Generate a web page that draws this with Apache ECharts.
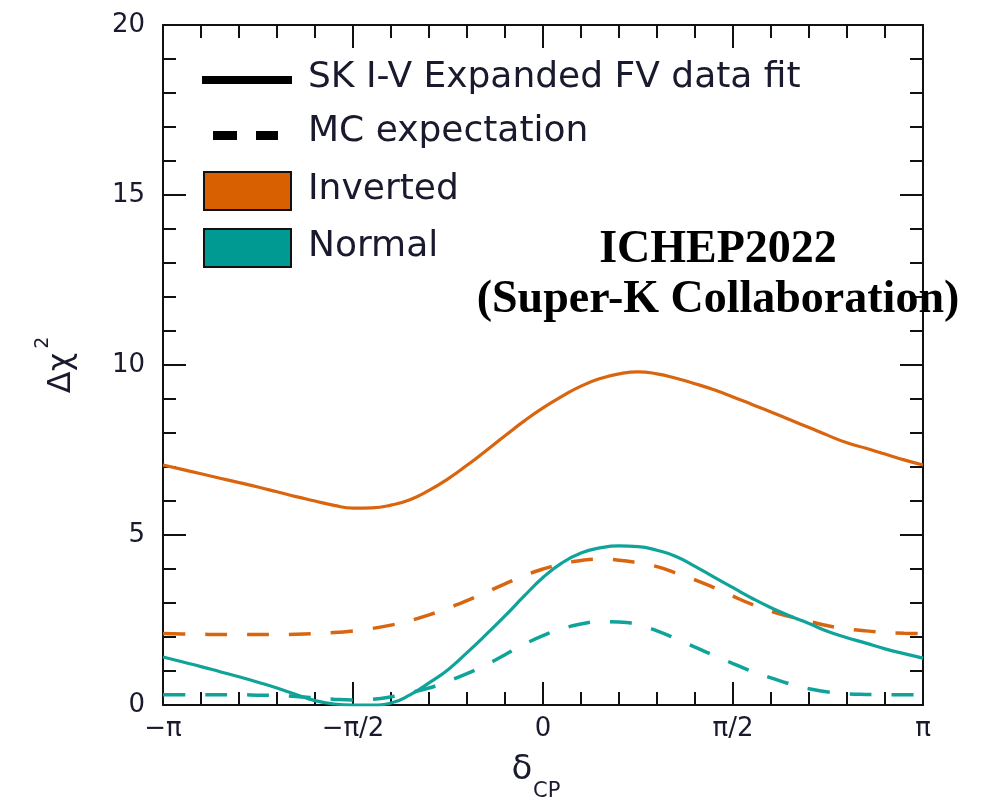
<!DOCTYPE html>
<html>
<head>
<meta charset="utf-8">
<title>Δχ² vs δCP</title>
<script src="https://cdn.jsdelivr.net/npm/echarts@6/dist/echarts.min.js"></script>
<style>
  html, body { margin: 0; padding: 0; background: #ffffff; }
  #chart { width: 988px; height: 803px; }
</style>
</head>
<body>
<div id="chart"></div>
<script>
// δCP in units of π
const deltaOverPi = [-1.00, -0.95, -0.90, -0.85, -0.80, -0.75, -0.70, -0.65, -0.60, -0.55,
                     -0.50, -0.45, -0.40, -0.35, -0.30, -0.25, -0.20, -0.15, -0.10, -0.05,
                      0.00,  0.05,  0.10,  0.15,  0.20,  0.25,  0.30,  0.35,  0.40,  0.45,
                      0.50,  0.55,  0.60,  0.65,  0.70,  0.75,  0.80,  0.85,  0.90,  0.95, 1.00];

// Inverted ordering: data fit (solid) and MC expectation (dashed)
const invertedFit = [7.06, 6.93, 6.80, 6.67, 6.54, 6.41, 6.27, 6.13, 6.00, 5.87,
                     5.79, 5.80, 5.88, 6.04, 6.31, 6.65, 7.05, 7.48, 7.92, 8.35,
                     8.74, 9.08, 9.38, 9.60, 9.74, 9.80, 9.74, 9.61, 9.45, 9.27,
                     9.06, 8.84, 8.62, 8.39, 8.16, 7.93, 7.71, 7.55, 7.38, 7.21, 7.06];
const invertedMC  = [2.10, 2.09, 2.08, 2.07, 2.07, 2.07, 2.07, 2.08, 2.10, 2.13,
                     2.18, 2.25, 2.35, 2.48, 2.65, 2.85, 3.07, 3.31, 3.56, 3.80,
                     4.00, 4.15, 4.25, 4.29, 4.26, 4.18, 4.07, 3.88, 3.68, 3.45,
                     3.20, 2.96, 2.76, 2.60, 2.46, 2.33, 2.24, 2.18, 2.14, 2.11, 2.10];

// Normal ordering: data fit (solid) and MC expectation (dashed)
const normalFit   = [1.41, 1.27, 1.13, 0.98, 0.83, 0.67, 0.50, 0.31, 0.13, 0.03,
                     0.00, 0.00, 0.06, 0.30, 0.65, 1.04, 1.54, 2.07, 2.62, 3.20,
                     3.75, 4.18, 4.47, 4.62, 4.68, 4.66, 4.55, 4.37, 4.08, 3.76,
                     3.45, 3.14, 2.86, 2.62, 2.40, 2.16, 1.98, 1.82, 1.65, 1.51, 1.38];
const normalMC    = [0.30, 0.30, 0.30, 0.30, 0.30, 0.29, 0.28, 0.25, 0.21, 0.17,
                     0.15, 0.17, 0.24, 0.36, 0.50, 0.70, 0.92, 1.18, 1.48, 1.78,
                     2.04, 2.24, 2.38, 2.45, 2.44, 2.36, 2.18, 1.95, 1.70, 1.46,
                     1.22, 0.99, 0.80, 0.62, 0.48, 0.38, 0.33, 0.31, 0.30, 0.30, 0.30];

// Axis tick labels
const xTickValues = [-1, -0.5, 0, 0.5, 1];
const xTickLabels = ['−π', '−π/2', '0', 'π/2', 'π'];
const yTickValues = [0, 5, 10, 15, 20];
const yTickLabels = ['0', '5', '10', '15', '20'];

// Legend entries and note
const legendLines = ['SK I-V Expanded FV data fit', 'MC expectation'];
const legendBoxes = ['Inverted', 'Normal'];
const noteLines = ['ICHEP2022', '(Super-K Collaboration)'];

const ORANGE = '#d9650f';
const TEAL = '#0fa39a';
const ORANGE_FILL = '#d96000';
const TEAL_FILL = '#009a92';
const INK = '#1a1a2e';
const FONT = '"DejaVu Sans", "Noto Sans", sans-serif';
const SERIF = 'bold 46px "Liberation Serif", "Times New Roman", serif';

function pair(xs, ys) { return xs.map((x, i) => [x, ys[i]]); }

function xLabel(v) {
  const i = xTickValues.findIndex(t => Math.abs(t - v) < 1e-6);
  return i >= 0 ? xTickLabels[i] : '';
}
function yLabel(v) {
  const i = yTickValues.findIndex(t => Math.abs(t - v) < 1e-6);
  return i >= 0 ? yTickLabels[i] : '';
}

const axisLine = { show: true, onZero: false, lineStyle: { color: '#111', width: 2 } };
const majorTick = { show: true, inside: true, length: 23, lineStyle: { color: '#111', width: 2 } };
const minorTick = { show: true, splitNumber: 5, length: 13, lineStyle: { color: '#111', width: 2 } };

const chart = echarts.init(document.getElementById('chart'), null, { renderer: 'canvas' });

const lineSeries = (ys, color, dashed) => ({
  type: 'line',
  data: pair(deltaOverPi, ys),
  smooth: 0.5,
  showSymbol: false,
  clip: true,
  silent: true,
  lineStyle: { color: color, width: dashed ? 3.5 : 3.2, type: dashed ? [22, 20] : 'solid', cap: 'butt' },
  z: 3
});

chart.setOption({
  backgroundColor: '#ffffff',
  animation: false,
  grid: { left: 163, right: 65, top: 25, bottom: 98, containLabel: false },
  xAxis: [
    {
      type: 'value', min: -1, max: 1, interval: 0.5, position: 'bottom',
      axisLine: axisLine, axisTick: majorTick, minorTick: minorTick,
      splitLine: { show: false },
      axisLabel: { margin: 11, fontSize: 26, color: INK, fontFamily: FONT, formatter: xLabel }
    },
    {
      type: 'value', min: -1, max: 1, interval: 0.5, position: 'top',
      axisLine: axisLine, axisTick: majorTick, minorTick: minorTick,
      splitLine: { show: false }, axisLabel: { show: false }
    }
  ],
  yAxis: [
    {
      type: 'value', min: 0, max: 20, interval: 5, position: 'left',
      axisLine: axisLine, axisTick: majorTick, minorTick: minorTick,
      splitLine: { show: false },
      axisLabel: { margin: 18, fontSize: 26, color: INK, fontFamily: FONT, formatter: yLabel }
    },
    {
      type: 'value', min: 0, max: 20, interval: 5, position: 'right',
      axisLine: axisLine, axisTick: majorTick, minorTick: minorTick,
      splitLine: { show: false }, axisLabel: { show: false }
    }
  ],
  series: [
    lineSeries(invertedFit, ORANGE, false),
    lineSeries(invertedMC, ORANGE, true),
    lineSeries(normalFit, TEAL, false),
    lineSeries(normalMC, TEAL, true)
  ],
  graphic: [
    // legend: line styles
    { type: 'line', shape: { x1: 202, y1: 80, x2: 292, y2: 80 }, style: { stroke: '#000', lineWidth: 8 }, z: 10 },
    { type: 'rect', shape: { x: 213, y: 131, width: 24, height: 9 }, style: { fill: '#000' }, z: 10 },
    { type: 'rect', shape: { x: 256, y: 131, width: 22, height: 9 }, style: { fill: '#000' }, z: 10 },
    // legend: ordering colours
    { type: 'rect', shape: { x: 204, y: 172, width: 87, height: 38 }, style: { fill: ORANGE_FILL, stroke: '#111', lineWidth: 2 }, z: 10 },
    { type: 'rect', shape: { x: 204, y: 229, width: 87, height: 38 }, style: { fill: TEAL_FILL, stroke: '#111', lineWidth: 2 }, z: 10 },
    { type: 'text', x: 308, y: 78, style: { text: legendLines[0], font: '36px ' + FONT, fill: INK, verticalAlign: 'middle' }, z: 10 },
    { type: 'text', x: 308, y: 132, style: { text: legendLines[1], font: '36px ' + FONT, fill: INK, verticalAlign: 'middle' }, z: 10 },
    { type: 'text', x: 308, y: 190, style: { text: legendBoxes[0], font: '36px ' + FONT, fill: INK, verticalAlign: 'middle' }, z: 10 },
    { type: 'text', x: 308, y: 247, style: { text: legendBoxes[1], font: '36px ' + FONT, fill: INK, verticalAlign: 'middle' }, z: 10 },
    // conference note
    { type: 'text', x: 718, y: 250, style: { text: noteLines[0], font: SERIF, fill: '#000', align: 'center', verticalAlign: 'middle' }, z: 20 },
    { type: 'text', x: 718, y: 300, style: { text: noteLines[1], font: SERIF, fill: '#000', align: 'center', verticalAlign: 'middle' }, z: 20 },
    // x-axis title δ_CP
    { type: 'text', x: 522, y: 770, style: { text: 'δ', font: '34px ' + FONT, fill: INK, align: 'center', verticalAlign: 'middle' }, z: 10 },
    { type: 'text', x: 533, y: 792, style: { text: 'CP', font: '21px ' + FONT, fill: INK, align: 'left', verticalAlign: 'middle' }, z: 10 },
    // y-axis title Δχ² (superscript laid out in the text's own frame)
    {
      type: 'text', x: 56, y: 365, rotation: Math.PI / 2, z: 10,
      style: {
        text: '{a|Δχ}{s|2}',
        align: 'center', verticalAlign: 'middle', fill: INK,
        rich: {
          a: { fontSize: 32, fontFamily: FONT, fill: INK, lineHeight: 44, verticalAlign: 'bottom' },
          s: { fontSize: 19, fontFamily: FONT, fill: INK, lineHeight: 44, verticalAlign: 'top', padding: [0, 0, 0, 4] }
        }
      }
    }
  ]
});
</script>
</body>
</html>
